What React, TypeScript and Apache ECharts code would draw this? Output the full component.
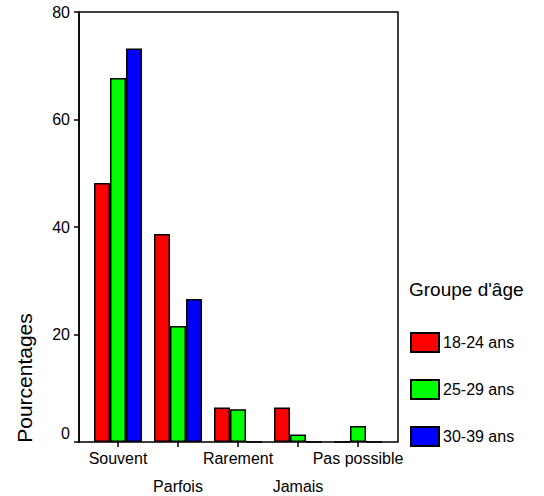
import React, { useEffect, useRef } from "react";
import * as echarts from "echarts";

const categories = ["Souvent", "Parfois", "Rarement", "Jamais", "Pas possible"];
const seriesNames = ["18-24 ans", "25-29 ans", "30-39 ans"];
const values18_24 = [48.2, 38.7, 6.4, 6.4, 0];
const values25_29 = [67.7, 21.6, 6.1, 1.4, 3.0];
const values30_39 = [73.2, 26.6, 0, 0, 0];
const colors = ["#ff0000", "#00ff00", "#0000ff"];
const yTicks = { min: 0, max: 80, interval: 20 };

const FONT = "Liberation Sans, Arial, sans-serif";

export default function App() {
  const ref = useRef<HTMLDivElement>(null);
  useEffect(() => {
    if (!ref.current) return;
    const chart = echarts.init(ref.current, undefined, { renderer: "svg" });
    const allValues = [values18_24, values25_29, values30_39];
    chart.setOption({
      animation: false,
      textStyle: { fontFamily: FONT, color: "#000" },
      title: {
        text: "Groupe d'âge",
        left: 409,
        top: 280,
        padding: 0,
        textStyle: { fontFamily: FONT, fontSize: 19, fontWeight: "normal", color: "#000" },
      },
      legend: {
        orient: "vertical",
        left: 410,
        top: 332,
        padding: 0,
        itemWidth: 28,
        itemHeight: 19,
        itemGap: 26,
        icon: "rect",
        data: seriesNames,
        textStyle: { fontFamily: FONT, fontSize: 16, color: "#000", padding: [0, 0, 0, -1] },
      },
      grid: [
        { left: 88, top: 12, width: 300, height: 430, containLabel: false, outerBoundsMode: "none" },
        {
          left: 79, top: 12, width: 319, height: 430, show: true,
          borderColor: "#000", borderWidth: 1.5, backgroundColor: "transparent",
          containLabel: false, outerBoundsMode: "none",
        },
      ],
      xAxis: [
        {
          type: "category",
          gridIndex: 0,
          data: categories,
          axisLine: { show: false },
          axisTick: { show: true, alignWithLabel: true, length: 5, lineStyle: { color: "#000", width: 1.5 } },
          axisLabel: {
            interval: 0,
            margin: 2,
            fontSize: 16,
            fontFamily: FONT,
            color: "#000",
            lineHeight: 28,
            formatter: (v: string, i: number) => (i % 2 === 1 ? "\n" + v : v),
          },
        },
        { type: "value", gridIndex: 1, show: false },
      ],
      yAxis: [
        {
          type: "value",
          gridIndex: 0,
          min: yTicks.min,
          max: yTicks.max,
          interval: yTicks.interval,
          offset: 9,
          axisLine: { show: true, lineStyle: { color: "#000", width: 1.5 } },
          axisTick: { show: true, length: 5, lineStyle: { color: "#000", width: 1.5 } },
          splitLine: { show: false },
          axisLabel: {
            margin: 9,
            fontSize: 16,
            fontFamily: FONT,
            color: "#000",
            formatter: (v: number) => (v === 0 ? "{z|0}" : String(v)),
            rich: { z: { fontSize: 16, fontFamily: FONT, color: "#000", padding: [0, 0, 18, 0] } },
          },
        },
        { type: "value", gridIndex: 1, show: false },
      ],
      graphic: [
        {
          type: "text",
          x: 24,
          y: 378,
          rotation: Math.PI / 2,
          style: {
            text: "Pourcentages",
            fontFamily: FONT,
            fontSize: 21,
            fill: "#000",
            textAlign: "center",
            textVerticalAlign: "middle",
          },
        },
      ],
      series: seriesNames.map((name, k) => ({
        name,
        type: "bar",
        xAxisIndex: 0,
        yAxisIndex: 0,
        data: allValues[k],
        barWidth: 16,
        barGap: "0%",
        itemStyle: { color: colors[k], borderColor: "#000", borderWidth: 1.5 },
      })),
    });
    return () => chart.dispose();
  }, []);
  return <div ref={ref} style={{ width: 544, height: 496, position: "absolute", left: 0, top: 0 }} />;
}
